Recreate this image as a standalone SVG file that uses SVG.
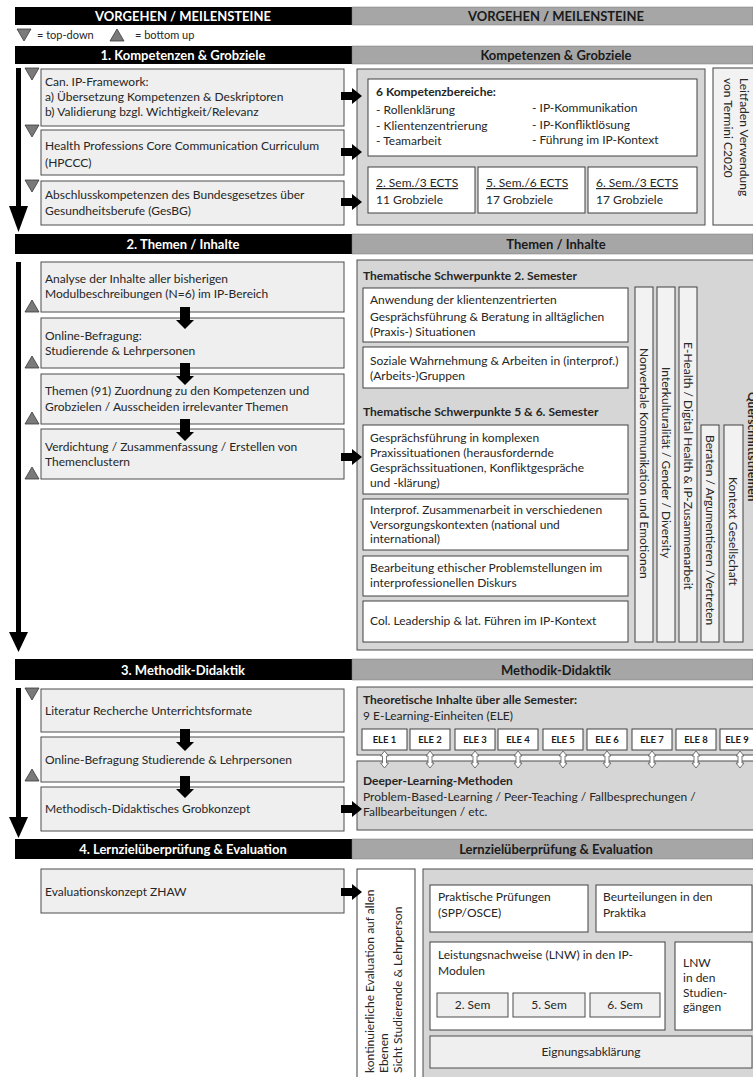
<svg xmlns="http://www.w3.org/2000/svg" width="753" height="1077" viewBox="0 0 753 1077">
<style>
  text { font-family: Lato, "Liberation Sans", sans-serif; font-size: 12px; fill: #262626; }
  .hb { fill: #000; }
  .hg { fill: #a6a6a6; stroke: #7a7a7a; stroke-width: 0.5; }
  .ht { font-weight: bold; font-size: 13px; fill: #fff; text-anchor: middle; }
  .htg { font-weight: bold; font-size: 13px; fill: #1a1a1a; text-anchor: middle; }
  .step { fill: #efefef; stroke: #4d4d4d; stroke-width: 1; }
  .panel { fill: #d6d6d6; stroke: #4d4d4d; stroke-width: 1; }
  .card { fill: #fff; stroke: #404040; stroke-width: 1; }
  .soft { fill: #f2f2f2; stroke: #404040; stroke-width: 1; }
  .tri { fill: #7a7a7a; stroke: #3a3a3a; stroke-width: 0.8; }
  .b { font-weight: bold; }
  .c { text-anchor: middle; }
  .u { text-decoration: underline; }
  .lg { font-size: 11px; }
  .ele { font-weight: bold; font-size: 9.5px; text-anchor: middle; fill: #1a1a1a; }
  .blk { fill: #000; }
  .dbl { fill: #fff; stroke: #555; stroke-width: 0.8; }
</style>
<defs>
  <path id="arrR" d="M0,-4 H11 V-8 L21,0 L11,8 V4 H0 Z"/>
  <path id="arrD" d="M-5,0 V13 H-9 L0,22 L9,13 H5 V0 Z"/>
  <path id="triDown" d="M0,0 H14 L7,12 Z"/>
  <path id="triUp" d="M0,12 H14 L7,0 Z"/>
  <path id="dbl" d="M0,0 L4,5 H2 V12 H4 L0,17 L-4,12 H-2 V5 H-4 Z"/>
</defs>

<rect width="753" height="1077" fill="#fff"/>

<!-- header rows -->
<g id="headers">
  <rect class="hb" x="15" y="7" width="337" height="18"/>
  <rect class="hg" x="352" y="7" width="401" height="18"/>
  <text class="ht" x="183" y="20.5">VORGEHEN  /  MEILENSTEINE</text>
  <text class="htg" x="556" y="20.5">VORGEHEN  /  MEILENSTEINE</text>

  <rect class="hb" x="15" y="46" width="337" height="18"/>
  <rect class="hg" x="352" y="46" width="401" height="18"/>
  <text class="ht" x="183" y="59.5">1. Kompetenzen &amp; Grobziele</text>
  <text class="htg" x="556" y="59.5">Kompetenzen &amp; Grobziele</text>

  <rect class="hb" x="15" y="234" width="337" height="20"/>
  <rect class="hg" x="352" y="234" width="401" height="20"/>
  <text class="ht" x="183" y="248.5">2. Themen / Inhalte</text>
  <text class="htg" x="556" y="248.5">Themen / Inhalte</text>

  <rect class="hb" x="15" y="659" width="337" height="21"/>
  <rect class="hg" x="352" y="659" width="401" height="21"/>
  <text class="ht" x="183" y="674.5">3. Methodik-Didaktik</text>
  <text class="htg" x="556" y="674.5">Methodik-Didaktik</text>

  <rect class="hb" x="15" y="839" width="337" height="20"/>
  <rect class="hg" x="352" y="839" width="401" height="20"/>
  <text class="ht" x="183" y="853.5">4. Lernzielüberprüfung &amp; Evaluation</text>
  <text class="htg" x="556" y="853.5">Lernzielüberprüfung &amp; Evaluation</text>
</g>

<!-- legend -->
<g id="legend">
  <use href="#triDown" class="tri" x="17" y="29"/>
  <text class="lg" x="37" y="38.5">= top-down</text>
  <use href="#triUp" class="tri" x="110" y="29"/>
  <text class="lg" x="135" y="38.5">= bottom up</text>
</g>

<!-- markers for direction of each step -->
<g id="direction-marks">
  <use href="#triDown" class="tri" x="25" y="68"/>
  <use href="#triDown" class="tri" x="25" y="125"/>
  <use href="#triDown" class="tri" x="25" y="180"/>
  <use href="#triUp" class="tri" x="25" y="300"/>
  <use href="#triUp" class="tri" x="25" y="356"/>
  <use href="#triUp" class="tri" x="25" y="412"/>
  <use href="#triUp" class="tri" x="25" y="467"/>
  <use href="#triDown" class="tri" x="25" y="688"/>
  <use href="#triUp" class="tri" x="25" y="769"/>
</g>

<!-- 1. Kompetenzen & Grobziele -->
<g id="step-framework">
  <rect class="step" x="41" y="69" width="303" height="57"/>
  <text x="45" y="86">Can. IP-Framework:</text>
  <text x="45" y="101">a) Übersetzung Kompetenzen &amp; Deskriptoren</text>
  <text x="45" y="116">b) Validierung bzgl. Wichtigkeit/Relevanz</text>
</g>
<g id="step-hpccc">
  <rect class="step" x="41" y="130" width="303" height="45"/>
  <text x="45" y="150">Health Professions Core Communication Curriculum</text>
  <text x="45" y="167">(HPCCC)</text>
</g>
<g id="step-gesbg">
  <rect class="step" x="41" y="181" width="303" height="44"/>
  <text x="45" y="199">Abschlusskompetenzen des Bundesgesetzes über</text>
  <text x="45" y="215">Gesundheitsberufe (GesBG)</text>
</g>

<g id="result-kompetenzen">
  <rect class="panel" x="357" y="69" width="348" height="156"/>
  <g id="kompetenzbereiche">
    <rect class="card" x="368" y="79" width="329" height="77"/>
    <text class="b" x="376" y="96">6 Kompetenzbereiche:</text>
    <text x="376" y="114">- Rollenklärung</text>
    <text x="376" y="130">- Klientenzentrierung</text>
    <text x="376" y="145">- Teamarbeit</text>
    <text x="532" y="112">- IP-Kommunikation</text>
    <text x="532" y="129">- IP-Konfliktlösung</text>
    <text x="532" y="144">- Führung im IP-Kontext</text>
  </g>
  <g id="sem2-ziele">
    <rect class="card" x="368" y="167" width="107" height="46"/>
    <text class="u" x="376" y="187">2. Sem./3 ECTS</text>
    <text x="376" y="204">11 Grobziele</text>
  </g>
  <g id="sem5-ziele">
    <rect class="card" x="478" y="167" width="107" height="46"/>
    <text class="u" x="486" y="187">5. Sem./6 ECTS</text>
    <text x="486" y="204">17 Grobziele</text>
  </g>
  <g id="sem6-ziele">
    <rect class="card" x="588" y="167" width="109" height="46"/>
    <text class="u" x="596" y="187">6. Sem./3 ECTS</text>
    <text x="596" y="204">17 Grobziele</text>
  </g>
</g>
<g id="leitfaden">
  <rect class="soft" x="713" y="68" width="45" height="157"/>
  <text transform="translate(744,78) rotate(90)" dominant-baseline="central" font-size="13.5">Leitfaden Verwendung</text>
  <text transform="translate(728,78) rotate(90)" dominant-baseline="central" font-size="13.5">von Termini C2020</text>
</g>

<!-- 2. Themen / Inhalte -->
<g id="step-analyse">
  <rect class="step" x="41" y="262" width="303" height="50"/>
  <text x="45" y="283">Analyse der Inhalte aller bisherigen</text>
  <text x="45" y="298">Modulbeschreibungen (N=6) im IP-Bereich</text>
</g>
<g id="step-befragung">
  <rect class="step" x="41" y="318" width="303" height="50"/>
  <text x="45" y="340">Online-Befragung:</text>
  <text x="45" y="355">Studierende &amp; Lehrpersonen</text>
</g>
<g id="step-zuordnung">
  <rect class="step" x="41" y="374" width="303" height="50"/>
  <text x="45" y="395">Themen (91) Zuordnung zu den Kompetenzen und</text>
  <text x="45" y="411">Grobzielen / Ausscheiden irrelevanter Themen</text>
</g>
<g id="step-verdichtung">
  <rect class="step" x="41" y="429" width="303" height="50"/>
  <text x="45" y="451">Verdichtung / Zusammenfassung / Erstellen von</text>
  <text x="45" y="466">Themenclustern</text>
</g>

<g id="result-themen">
  <rect class="panel" x="357" y="260" width="403" height="390"/>
  <text class="b" x="363" y="280">Thematische Schwerpunkte  2. Semester</text>
  <g id="thema-anwendung">
    <rect class="card" x="363" y="288" width="265" height="54"/>
    <text x="370" y="304">Anwendung der klientenzentrierten</text>
    <text x="370" y="321">Gesprächsführung &amp; Beratung in alltäglichen</text>
    <text x="370" y="336">(Praxis-) Situationen</text>
  </g>
  <g id="thema-wahrnehmung">
    <rect class="card" x="363" y="347" width="265" height="41"/>
    <text x="370" y="365">Soziale Wahrnehmung &amp; Arbeiten in (interprof.)</text>
    <text x="370" y="380">(Arbeits-)Gruppen</text>
  </g>
  <text class="b" x="363" y="416">Thematische Schwerpunkte  5 &amp; 6. Semester</text>
  <g id="thema-komplex">
    <rect class="card" x="363" y="425" width="265" height="69"/>
    <text x="370" y="442">Gesprächsführung in komplexen</text>
    <text x="370" y="457">Praxissituationen (herausfordernde</text>
    <text x="370" y="472">Gesprächssituationen, Konfliktgespräche</text>
    <text x="370" y="487">und -klärung)</text>
  </g>
  <g id="thema-versorgung">
    <rect class="card" x="363" y="499" width="265" height="51"/>
    <text x="370" y="514">Interprof. Zusammenarbeit  in verschiedenen</text>
    <text x="370" y="529">Versorgungskontexten (national und</text>
    <text x="370" y="543">international)</text>
  </g>
  <g id="thema-ethik">
    <rect class="card" x="363" y="556" width="265" height="40"/>
    <text x="370" y="572">Bearbeitung ethischer Problemstellungen im</text>
    <text x="370" y="587">interprofessionellen  Diskurs</text>
  </g>
  <g id="thema-leadership">
    <rect class="card" x="363" y="601" width="265" height="41"/>
    <text x="370" y="625">Col. Leadership &amp; lat. Führen im IP-Kontext</text>
  </g>
  <g id="quer-nonverbal">
    <rect class="soft" x="635" y="287" width="18" height="355"/>
    <text transform="translate(644,348) rotate(90)" dominant-baseline="central" font-size="12.5">Nonverbale Kommunikation und Emotionen</text>
  </g>
  <g id="quer-interkulturalitaet">
    <rect class="soft" x="657" y="287" width="18" height="355"/>
    <text transform="translate(666,367) rotate(90)" dominant-baseline="central" font-size="11.5">Interkulturalität / Gender / Diversity</text>
  </g>
  <g id="quer-ehealth">
    <rect class="soft" x="679" y="287" width="18" height="355"/>
    <text transform="translate(688,342) rotate(90)" dominant-baseline="central" font-size="11">E-Health / Digital Health &amp; IP-Zusammenarbeit</text>
  </g>
  <g id="quer-beraten">
    <rect class="soft" x="701" y="425" width="18" height="217"/>
    <text transform="translate(710,435) rotate(90)" dominant-baseline="central">Beraten / Argumentieren /Vertreten</text>
  </g>
  <g id="quer-kontext">
    <rect class="soft" x="724" y="425" width="19" height="217"/>
    <text transform="translate(733.5,477) rotate(90)" dominant-baseline="central">Kontext Gesellschaft</text>
  </g>
  <!-- panel title runs on past the right border -->
  <text class="b" transform="translate(748,392) rotate(90)">Querschnittsthemen</text>
</g>

<!-- 3. Methodik-Didaktik -->
<g id="step-literatur">
  <rect class="step" x="41" y="689" width="303" height="43"/>
  <text x="45" y="715">Literatur Recherche Unterrichtsformate</text>
</g>
<g id="step-befragung2">
  <rect class="step" x="41" y="737" width="303" height="45"/>
  <text x="45" y="764">Online-Befragung Studierende &amp; Lehrpersonen</text>
</g>
<g id="step-grobkonzept">
  <rect class="step" x="41" y="787" width="303" height="44"/>
  <text x="45" y="813">Methodisch-Didaktisches Grobkonzept</text>
</g>

<g id="result-theorie">
  <rect class="panel" x="357" y="687" width="403" height="68"/>
  <text class="b" x="363" y="704">Theoretische Inhalte über alle Semester:</text>
  <text x="363" y="720">9 E-Learning-Einheiten (ELE)</text>
  <g id="ele-1"><rect class="card" x="362" y="729" width="45" height="21"/><text class="ele" x="384.5" y="743">ELE 1</text></g>
  <g id="ele-2"><rect class="card" x="410" y="729" width="40" height="21"/><text class="ele" x="430" y="743">ELE 2</text></g>
  <g id="ele-3"><rect class="card" x="455" y="729" width="40" height="21"/><text class="ele" x="475" y="743">ELE 3</text></g>
  <g id="ele-4"><rect class="card" x="498" y="729" width="40" height="21"/><text class="ele" x="518" y="743">ELE 4</text></g>
  <g id="ele-5"><rect class="card" x="543" y="729" width="40" height="21"/><text class="ele" x="563" y="743">ELE 5</text></g>
  <g id="ele-6"><rect class="card" x="587" y="729" width="40" height="21"/><text class="ele" x="607" y="743">ELE 6</text></g>
  <g id="ele-7"><rect class="card" x="632" y="729" width="40" height="21"/><text class="ele" x="652" y="743">ELE 7</text></g>
  <g id="ele-8"><rect class="card" x="676" y="729" width="40" height="21"/><text class="ele" x="696" y="743">ELE 8</text></g>
  <g id="ele-9"><rect class="card" x="720" y="729" width="40" height="21"/><text class="ele" x="737" y="743">ELE 9</text></g>
</g>
<g id="result-deeper">
  <rect class="panel" x="357" y="761" width="403" height="69"/>
  <text class="b" x="363" y="785">Deeper-Learning-Methoden</text>
  <text x="363" y="801">Problem-Based-Learning / Peer-Teaching / Fallbesprechungen /</text>
  <text x="363" y="816">Fallbearbeitungen / etc.</text>
</g>

<!-- 4. Lernzielüberprüfung & Evaluation -->
<g id="step-evaluation">
  <rect class="step" x="41" y="869" width="303" height="44"/>
  <text x="45" y="896">Evaluationskonzept ZHAW</text>
</g>
<g id="evaluation-ebenen">
  <rect class="card" x="357" y="869" width="58" height="220"/>
  <text transform="translate(374,1073) rotate(-90)" font-size="12.5">kontinuierliche Evaluation auf allen</text>
  <text transform="translate(388,1073) rotate(-90)" font-size="12.5">Ebenen</text>
  <text transform="translate(402,1073) rotate(-90)" font-size="12.5">Sicht Studierende &amp; Lehrperson</text>
</g>
<g id="result-pruefung">
  <rect class="panel" x="423" y="869" width="340" height="220"/>
  <g id="praktische-pruefungen">
    <rect class="card" x="430" y="885" width="158" height="47"/>
    <text x="438" y="901">Praktische Prüfungen</text>
    <text x="438" y="917">(SPP/OSCE)</text>
  </g>
  <g id="beurteilungen">
    <rect class="card" x="596" y="885" width="156" height="47"/>
    <text x="603" y="901">Beurteilungen in den</text>
    <text x="603" y="917">Praktika</text>
  </g>
  <g id="lnw-module">
    <rect class="card" x="430" y="942" width="235" height="88"/>
    <text x="438" y="959" font-size="12.5">Leistungsnachweise (LNW) in den IP-</text>
    <text x="438" y="975" font-size="12.5">Modulen</text>
    <g id="lnw-sem2"><rect class="step" x="437" y="993" width="71" height="24"/><text class="c" x="472.5" y="1009">2. Sem</text></g>
    <g id="lnw-sem5"><rect class="step" x="513" y="993" width="72" height="24"/><text class="c" x="549" y="1009">5. Sem</text></g>
    <g id="lnw-sem6"><rect class="step" x="590" y="993" width="70" height="24"/><text class="c" x="625" y="1009">6. Sem</text></g>
  </g>
  <g id="lnw-studiengaenge">
    <rect class="card" x="675" y="942" width="77" height="88"/>
    <text x="683" y="967">LNW</text>
    <text x="683" y="982">in den</text>
    <text x="683" y="997">Studien-</text>
    <text x="683" y="1011">gängen</text>
  </g>
  <g id="eignung">
    <rect class="step" x="430" y="1036" width="322" height="32"/>
    <text class="c" x="591" y="1056">Eignungsabklärung</text>
  </g>
</g>

<!-- connectors -->
<g id="connectors">
  <!-- timeline arrows -->
  <rect class="blk" x="16" y="68" width="5" height="140"/>
  <polygon class="blk" points="9,206 28,206 18.5,232"/>
  <rect class="blk" x="16" y="262" width="5" height="372"/>
  <polygon class="blk" points="9,632 28,632 18.5,652"/>
  <rect class="blk" x="16" y="688" width="5" height="131"/>
  <polygon class="blk" points="9,817 28,817 18.5,838"/>

  <!-- step to result -->
  <use href="#arrR" class="blk" x="341" y="96"/>
  <use href="#arrR" class="blk" x="341" y="152"/>
  <use href="#arrR" class="blk" x="341" y="202"/>
  <use href="#arrR" class="blk" x="341" y="457"/>
  <use href="#arrR" class="blk" x="341" y="809"/>
  <use href="#arrR" class="blk" x="341" y="892"/>

  <!-- step to step -->
  <use href="#arrD" class="blk" x="185" y="307"/>
  <use href="#arrD" class="blk" x="185" y="363"/>
  <use href="#arrD" class="blk" x="185" y="419"/>
  <use href="#arrD" class="blk" x="185" y="729"/>
  <use href="#arrD" class="blk" x="185" y="776"/>

  <!-- E-Learning to Deeper Learning -->
  <use href="#dbl" class="dbl" x="384.5" y="751"/>
  <use href="#dbl" class="dbl" x="430" y="751"/>
  <use href="#dbl" class="dbl" x="475" y="751"/>
  <use href="#dbl" class="dbl" x="518" y="751"/>
  <use href="#dbl" class="dbl" x="563" y="751"/>
  <use href="#dbl" class="dbl" x="607" y="751"/>
  <use href="#dbl" class="dbl" x="652" y="751"/>
  <use href="#dbl" class="dbl" x="696" y="751"/>
  <use href="#dbl" class="dbl" x="740" y="751"/>
</g>
</svg>
